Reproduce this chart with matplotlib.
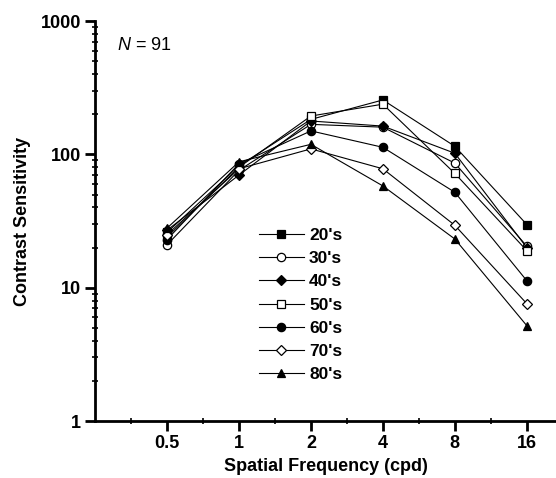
import numpy as np
import matplotlib
matplotlib.use("Agg")
import matplotlib.pyplot as plt
from matplotlib.ticker import FixedLocator, NullFormatter

plt.rcParams["font.family"] = ["Liberation Sans", "DejaVu Sans"]
plt.rcParams["mathtext.fontset"] = "custom"
plt.rcParams["mathtext.it"] = "Liberation Sans:italic"
plt.rcParams["mathtext.rm"] = "Liberation Sans"

freqs = [0.5, 1, 2, 4, 8, 16]
freq_labels = ["0.5", "1", "2", "4", "8", "16"]

cs_20s = [26, 82, 183, 256, 115, 29.8]
cs_30s = [21, 76, 168, 160, 86, 20.5]
cs_40s = [27, 70, 178, 163, 102, 20]
cs_50s = [24, 80, 194, 238, 72, 19]
cs_60s = [23, 85, 150, 113, 52, 11.3]
cs_70s = [25, 78, 110, 78, 29.4, 7.6]
cs_80s = [28, 88, 119, 58, 23.2, 5.2]

labels = ["20's", "30's", "40's", "50's", "60's", "70's", "80's"]
series = [cs_20s, cs_30s, cs_40s, cs_50s, cs_60s, cs_70s, cs_80s]
styles = [
    ("s", "black"),
    ("o", "white"),
    ("D", "black"),
    ("s", "white"),
    ("o", "black"),
    ("D", "white"),
    ("^", "black"),
]

fig = plt.figure(figsize=(5.56, 4.78), dpi=100)
ax = fig.add_axes([0.171, 0.119, 0.829, 0.837])

for vals, lab, (mk, fc) in zip(series, labels, styles):
    ms = 5.5 if mk == "D" else 6.0
    ax.plot(freqs, vals, color="black", linewidth=0.8, marker=mk, markersize=ms,
            markerfacecolor=fc, markeredgecolor="black", markeredgewidth=0.9,
            label=lab)

ax.set_xscale("log", base=2)
ax.set_yscale("log")
ax.set_xlim(0.25, 21.2)
ax.set_ylim(1, 1000)

ax.xaxis.set_major_locator(FixedLocator(freqs))
ax.set_xticklabels(freq_labels)
minor_x = [0.25 * 2 ** (k + 0.5) for k in range(7)]
ax.xaxis.set_minor_locator(FixedLocator(minor_x))
ax.xaxis.set_minor_formatter(NullFormatter())

ax.yaxis.set_major_locator(FixedLocator([1, 10, 100, 1000]))
ax.set_yticklabels(["1", "10", "100", "1000"])
minor_y = [m * 10 ** e for e in range(3) for m in range(2, 10)]
ax.yaxis.set_minor_locator(FixedLocator(minor_y))
ax.yaxis.set_minor_formatter(NullFormatter())

for side in ["top", "right"]:
    ax.spines[side].set_visible(False)
for side in ["left", "bottom"]:
    ax.spines[side].set_linewidth(2)

ax.tick_params(which="major", direction="out", length=7, width=2, labelsize=13,
               pad=3)
ax.tick_params(which="minor", direction="inout", length=4, width=1.2)
for t in ax.get_xticklabels() + ax.get_yticklabels():
    t.set_fontweight("bold")

ax.set_xlabel("Spatial Frequency (cpd)", fontsize=13, fontweight="bold", labelpad=4)
ax.set_ylabel("Contrast Sensitivity", fontsize=13, fontweight="bold", labelpad=7)

ax.text(0.048, 0.96, r"$\it{N}$ = 91", transform=ax.transAxes, fontsize=13,
        ha="left", va="top")

ax.legend(loc="upper left", bbox_to_anchor=(0.34, 0.50), frameon=False,
          prop={"weight": "bold", "size": 12.5}, handlelength=2.6,
          handletextpad=0.3, labelspacing=0.46, borderaxespad=0)

fig.savefig("out.png", dpi=100)
